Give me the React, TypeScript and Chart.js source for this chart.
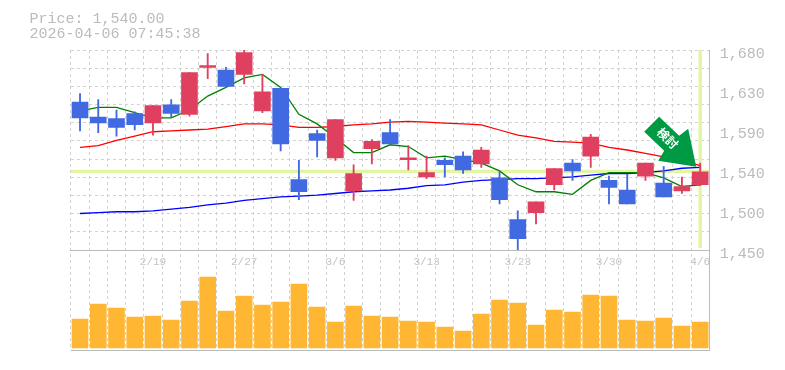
import React, { useEffect, useRef } from "react";
import { Chart, registerables } from "chart.js";

Chart.register(...registerables);

const categories = ["2/13","2/16","2/17","2/18","2/19","2/20","2/24","2/25","2/26","2/27","3/2","3/3","3/4","3/5","3/6","3/9","3/10","3/11","3/12","3/13","3/16","3/17","3/18","3/19","3/23","3/24","3/25","3/26","3/27","3/30","3/31","4/1","4/2","4/3","4/6"];
const shownDates = ["2/19","2/27","3/6","3/13","3/23","3/30","4/6"];

const opens = [1620,1603,1601,1607,1596,1617,1606,1660,1657,1652,1610,1636,1531,1584,1556,1518,1566.5,1585,1554,1534,1553,1558,1549,1533,1485,1493,1525,1550,1558,1530,1519,1535,1527,1518,1525];
const closes = [1602,1596,1591,1594,1616,1607,1654,1662,1638,1677,1632,1572,1517,1576,1600,1538,1575,1572,1556,1539,1548,1542,1565,1508,1463,1505.5,1543.5,1541,1580,1522,1503,1550,1511,1523,1540];
const highs = [1630,1623,1611,1609,1616,1623,1654,1676,1660,1680,1652,1636,1553,1588,1600,1548,1577,1600,1570,1558,1556,1563,1568,1540,1495,1505.5,1543.5,1554,1583,1535,1537,1550,1546,1534,1550];
const lows = [1587,1585,1581,1588,1582,1603,1604,1647,1637,1641,1608,1564,1508,1557,1553,1507,1549,1572,1542,1532,1534,1538,1545,1503,1449,1480,1519,1530,1545,1503,1503,1530,1511,1515,1524];

const maShort = [1610,1614,1614,1608,1602,1602,1611,1627,1637,1648,1652,1637,1606,1595,1579,1562,1562,1571,1569,1556,1558,1554,1550,1541,1525,1517,1517,1514,1530,1539,1539,1539,1533,1523,1525];
const maMid = [1568,1570,1576,1581,1586,1587,1588,1589,1592,1595,1595,1594,1591,1591,1592,1594,1595,1597,1598,1597,1596,1595,1594,1588,1582,1579,1575,1574,1573,1568,1565,1561,1557,1553,1547];
const maLong = [1492,1493,1494,1494,1495,1497,1499,1502,1504,1507,1509,1511,1512,1513,1515,1517,1518,1519,1521,1524,1525,1528,1530,1531,1532,1532,1533,1534,1536,1538,1538,1539,1541,1544,1545];

const volumes = [29,44,40,31,32,28,47,71,37,52,43,46,64,41,26,42,32,31,27,26,21,17,34,48,45,23,38,36,53,52,28,27,30,22,26];

const priceLabelValues = [1680,1634,1588,1542,1496,1450];
const priceLabelTexts = ["1,680","1,630","1,590","1,540","1,500","1,450"];
const priceMin = 1450;
const priceMax = 1680;
const gridDivisions = 11;
const currentPrice = 1540;
const titleLines = ["Price: 1,540.00", "2026-04-06 07:45:38"];
const signalText = "検討";

const UP = "#E0405F";
const DOWN = "#4169E1";
const VOL = "#FFB733";
const GREY = "#BBBBBB";
const GRID = "#D2D2D2";
const HILITE = "#E2F5A0";
const ARROW = "#009944";
const FONT = "'Liberation Mono', monospace";

const candleColors = opens.map((o, i) => (closes[i] >= o ? UP : DOWN));

const overlay = {
  id: "overlay",
  beforeDatasetsDraw(chart: any) {
    const { ctx, chartArea, scales } = chart;
    const y = scales.y.getPixelForValue(currentPrice);
    const x = scales.x.getPixelForValue(categories.length - 1);
    ctx.save();
    ctx.strokeStyle = HILITE;
    ctx.lineWidth = 3.4;
    ctx.beginPath();
    ctx.moveTo(chartArea.left, y - 0.4);
    ctx.lineTo(chartArea.right, y - 0.4);
    ctx.moveTo(x, chartArea.top);
    ctx.lineTo(x, scales.y.bottom - 2);
    ctx.stroke();
    ctx.restore();
  },
  afterDraw(chart: any) {
    const { ctx, chartArea, scales } = chart;
    ctx.save();
    // closing frame line of the volume panel
    ctx.strokeStyle = GREY;
    ctx.lineWidth = 1;
    ctx.beginPath();
    ctx.moveTo(chartArea.left, chartArea.bottom + 0.5);
    ctx.lineTo(chartArea.right, chartArea.bottom + 0.5);
    ctx.stroke();

    // title
    ctx.fillStyle = "#BBBBBB";
    ctx.font = "15px " + FONT;
    ctx.textBaseline = "alphabetic";
    ctx.fillText(titleLines[0], 29.5, 23);
    ctx.fillText(titleLines[1], 29.5, 38);

    // signal arrow, anchored to the last candle
    const ax = scales.x.getPixelForValue(categories.length - 1);
    const ay = scales.y.getPixelForValue(currentPrice);
    const pts = [[-41,-55],[-56,-40],[-36,-21],[-42,-11],[-4,-5],[-12,-43],[-21,-36]];
    ctx.fillStyle = ARROW;
    ctx.beginPath();
    pts.forEach(([dx, dy], i) => (i ? ctx.lineTo(ax + dx, ay + dy) : ctx.moveTo(ax + dx, ay + dy)));
    ctx.closePath();
    ctx.fill();
    ctx.translate(ax - 32.5, ay - 33.5);
    ctx.rotate(Math.PI / 4);
    ctx.fillStyle = "#FFFFFF";
    ctx.font = "bold 12px 'Noto Sans CJK JP'";
    ctx.textAlign = "center";
    ctx.textBaseline = "middle";
    ctx.fillText(signalText, 0, 0);
    ctx.restore();
  },
};

export default function App() {
  const ref = useRef<HTMLCanvasElement | null>(null);
  useEffect(() => {
    const chart = new Chart(ref.current!, {
      type: "bar",
      plugins: [overlay],
      data: {
        labels: categories,
        datasets: [
          { type: "line", data: maLong, yAxisID: "y", borderColor: "#0000FF", borderWidth: 1.3, pointRadius: 0, tension: 0, order: 5 },
          { type: "line", data: maMid, yAxisID: "y", borderColor: "#FF0000", borderWidth: 1.3, pointRadius: 0, tension: 0, order: 4 },
          { type: "line", data: maShort, yAxisID: "y", borderColor: "#008000", borderWidth: 1.3, pointRadius: 0, tension: 0, order: 3 },
          { data: lows.map((l, i) => [l, highs[i]]), yAxisID: "y", backgroundColor: candleColors, barThickness: 1.2, grouped: false, order: 2 },
          { data: opens.map((o, i) => [o, closes[i]]), yAxisID: "y", backgroundColor: candleColors, barThickness: 16, grouped: false, order: 1 },
          { data: volumes, yAxisID: "v", backgroundColor: VOL, barThickness: 16, grouped: false, order: 1 },
        ] as any,
      },
      options: {
        responsive: false,
        animation: false,
        layout: { padding: { left: 70.9, top: 50, right: 0, bottom: 20 } },
        plugins: { legend: { display: false }, tooltip: { enabled: false }, title: { display: false } },
        scales: {
          x: {
            type: "category",
            offset: true,
            position: { y: priceMin } as any,
            grid: { color: GRID, drawTicks: false, offset: true },
            border: { color: GREY, dash: [3, 3] },
            ticks: {
              autoSkip: false,
              maxRotation: 0,
              padding: 5,
              color: "#C4C4C4",
              font: { family: FONT, size: 11 },
              callback(this: any, v: any) {
                const l = this.getLabelForValue(v);
                return shownDates.includes(l) ? l : "";
              },
            },
          },
          y: {
            position: "right",
            stack: "panels",
            stackWeight: 2,
            min: priceMin,
            max: priceMax,
            afterFit(s: any) { s.width = 75.7; },
            afterBuildTicks(s: any) {
              const set = new Set<number>(priceLabelValues);
              for (let k = 0; k <= gridDivisions; k++) set.add(priceMin + ((priceMax - priceMin) * k) / gridDivisions);
              s.ticks = [...set].sort((a, b) => a - b).map((value) => ({ value }));
            },
            grid: {
              drawTicks: false,
              color(c: any) { return priceLabelValues.includes(c.tick.value) && c.tick.value !== priceMin && c.tick.value !== priceMax ? "rgba(0,0,0,0)" : GRID; },
            },
            border: { color: GREY, dash: [3, 3] },
            ticks: {
              autoSkip: false,
              padding: 10.5,
              labelOffset: 4,
              color: "#BBBBBB",
              font: { family: FONT, size: 15 },
              callback(v: any) {
                const i = priceLabelValues.indexOf(v);
                return i >= 0 ? priceLabelTexts[i] : "";
              },
            },
          },
          v: {
            position: "right",
            stack: "panels",
            stackWeight: 1,
            min: -2,
            max: 98,
            afterFit(s: any) { s.width = 75.7; },
            grid: { display: false },
            border: { color: GREY },
            ticks: { display: false },
          },
        },
      } as any,
    });
    return () => chart.destroy();
  }, []);
  return <canvas ref={ref} width={785} height={370} style={{ position: "fixed", left: 0, top: 0, display: "block" }} />;
}
